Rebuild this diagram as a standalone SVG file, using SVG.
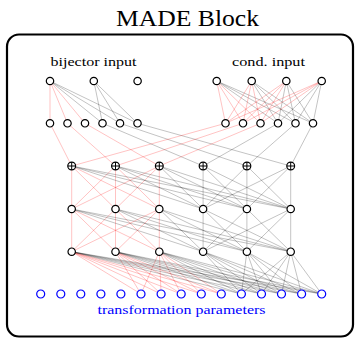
<svg xmlns="http://www.w3.org/2000/svg" xmlns:xlink="http://www.w3.org/1999/xlink" width="356" height="339" viewBox="0 0 356 339">
<style>
.r{stroke:#ff0000;stroke-opacity:.34;stroke-width:.7}
.g{stroke:#000;stroke-opacity:.34;stroke-width:.7}
.n{fill:#fff;stroke:#000;stroke-width:1.2}
.o{fill:#fff;stroke:#0000ff;stroke-width:1.2}
text{font-family:"Liberation Serif","DejaVu Serif",serif}
</style>
<defs>
<g id="unit"><circle class="n" r="3.7"/></g>
<g id="oplus"><circle class="n" r="3.9"/><path d="M-3.9 0H3.9M0-3.9V3.9" stroke="#000" stroke-width="1"/></g>
<g id="param"><circle class="o" r="4"/></g>
</defs>
<rect width="356" height="339" fill="#fff"/>
<text x="187.5" y="26" font-size="24" text-anchor="middle" textLength="143" lengthAdjust="spacingAndGlyphs">MADE Block</text>
<rect id="frame" x="7" y="34.5" width="346" height="302" rx="12" fill="none" stroke="#000" stroke-width="2.2"/>
<text x="93.5" y="65.5" font-size="13" text-anchor="middle" textLength="86" lengthAdjust="spacingAndGlyphs">bijector input</text>
<text x="268.5" y="65.5" font-size="13" text-anchor="middle" textLength="73" lengthAdjust="spacingAndGlyphs">cond. input</text>
<text x="181.5" y="314" font-size="13" text-anchor="middle" textLength="168" lengthAdjust="spacingAndGlyphs" fill="#0000ff">transformation parameters</text>

<g id="connectors">
<!-- bijector input -> first masked layer -->
<line class="r" x1="50" y1="81" x2="50" y2="123.3"/>
<line class="r" x1="50" y1="81" x2="67.5" y2="123.3"/>
<line class="r" x1="50" y1="81" x2="85" y2="123.3"/>
<line class="g" x1="50" y1="81" x2="102.5" y2="123.3"/>
<line class="g" x1="50" y1="81" x2="120" y2="123.3"/>
<line class="g" x1="50" y1="81" x2="137.5" y2="123.3"/>
<line class="g" x1="93.8" y1="81" x2="102.5" y2="123.3"/>
<line class="g" x1="93.8" y1="81" x2="120" y2="123.3"/>
<line class="g" x1="93.8" y1="81" x2="137.5" y2="123.3"/>
<!-- conditional input -> dense layer -->
<line class="r" x1="216.7" y1="81" x2="225.5" y2="123.3"/>
<line class="r" x1="216.7" y1="81" x2="243" y2="123.3"/>
<line class="r" x1="216.7" y1="81" x2="260.5" y2="123.3"/>
<line class="g" x1="216.7" y1="81" x2="278" y2="123.3"/>
<line class="g" x1="216.7" y1="81" x2="295.5" y2="123.3"/>
<line class="g" x1="216.7" y1="81" x2="313" y2="123.3"/>
<line class="r" x1="251.7" y1="81" x2="225.5" y2="123.3"/>
<line class="r" x1="251.7" y1="81" x2="243" y2="123.3"/>
<line class="r" x1="251.7" y1="81" x2="260.5" y2="123.3"/>
<line class="g" x1="251.7" y1="81" x2="278" y2="123.3"/>
<line class="g" x1="251.7" y1="81" x2="295.5" y2="123.3"/>
<line class="g" x1="251.7" y1="81" x2="313" y2="123.3"/>
<line class="r" x1="286.3" y1="81" x2="225.5" y2="123.3"/>
<line class="r" x1="286.3" y1="81" x2="243" y2="123.3"/>
<line class="r" x1="286.3" y1="81" x2="260.5" y2="123.3"/>
<line class="g" x1="286.3" y1="81" x2="278" y2="123.3"/>
<line class="g" x1="286.3" y1="81" x2="295.5" y2="123.3"/>
<line class="g" x1="286.3" y1="81" x2="313" y2="123.3"/>
<line class="r" x1="321.7" y1="81" x2="225.5" y2="123.3"/>
<line class="r" x1="321.7" y1="81" x2="243" y2="123.3"/>
<line class="r" x1="321.7" y1="81" x2="260.5" y2="123.3"/>
<line class="g" x1="321.7" y1="81" x2="278" y2="123.3"/>
<line class="g" x1="321.7" y1="81" x2="295.5" y2="123.3"/>
<line class="g" x1="321.7" y1="81" x2="313" y2="123.3"/>
<!-- sums -->
<line class="r" x1="50" y1="123.3" x2="71.7" y2="166"/>
<line class="r" x1="67.5" y1="123.3" x2="115.5" y2="166"/>
<line class="r" x1="85" y1="123.3" x2="159.3" y2="166"/>
<line class="g" x1="102.5" y1="123.3" x2="203.1" y2="166"/>
<line class="g" x1="120" y1="123.3" x2="246.9" y2="166"/>
<line class="g" x1="137.5" y1="123.3" x2="290.7" y2="166"/>
<line class="r" x1="225.5" y1="123.3" x2="71.7" y2="166"/>
<line class="r" x1="243" y1="123.3" x2="115.5" y2="166"/>
<line class="r" x1="260.5" y1="123.3" x2="159.3" y2="166"/>
<line class="g" x1="278" y1="123.3" x2="203.1" y2="166"/>
<line class="g" x1="295.5" y1="123.3" x2="246.9" y2="166"/>
<line class="g" x1="313" y1="123.3" x2="290.7" y2="166"/>
<!-- hidden layer 1 -> hidden layer 2 -->
<line class="r" x1="71.7" y1="166" x2="71.7" y2="209"/>
<line class="r" x1="71.7" y1="166" x2="115.5" y2="209"/>
<line class="r" x1="71.7" y1="166" x2="159.3" y2="209"/>
<line class="r" x1="115.5" y1="166" x2="71.7" y2="209"/>
<line class="r" x1="115.5" y1="166" x2="115.5" y2="209"/>
<line class="r" x1="115.5" y1="166" x2="159.3" y2="209"/>
<line class="r" x1="159.3" y1="166" x2="71.7" y2="209"/>
<line class="r" x1="159.3" y1="166" x2="115.5" y2="209"/>
<line class="r" x1="159.3" y1="166" x2="159.3" y2="209"/>
<line class="g" x1="71.7" y1="166" x2="203.1" y2="209"/>
<line class="g" x1="71.7" y1="166" x2="246.9" y2="209"/>
<line class="g" x1="71.7" y1="166" x2="290.7" y2="209"/>
<line class="g" x1="115.5" y1="166" x2="203.1" y2="209"/>
<line class="g" x1="115.5" y1="166" x2="246.9" y2="209"/>
<line class="g" x1="115.5" y1="166" x2="290.7" y2="209"/>
<line class="g" x1="159.3" y1="166" x2="203.1" y2="209"/>
<line class="g" x1="159.3" y1="166" x2="246.9" y2="209"/>
<line class="g" x1="159.3" y1="166" x2="290.7" y2="209"/>
<line class="g" x1="203.1" y1="166" x2="203.1" y2="209"/>
<line class="g" x1="203.1" y1="166" x2="246.9" y2="209"/>
<line class="g" x1="203.1" y1="166" x2="290.7" y2="209"/>
<line class="g" x1="246.9" y1="166" x2="203.1" y2="209"/>
<line class="g" x1="246.9" y1="166" x2="246.9" y2="209"/>
<line class="g" x1="246.9" y1="166" x2="290.7" y2="209"/>
<line class="g" x1="290.7" y1="166" x2="203.1" y2="209"/>
<line class="g" x1="290.7" y1="166" x2="246.9" y2="209"/>
<line class="g" x1="290.7" y1="166" x2="290.7" y2="209"/>
<!-- hidden layer 2 -> hidden layer 3 -->
<line class="r" x1="71.7" y1="209" x2="71.7" y2="251.7"/>
<line class="r" x1="71.7" y1="209" x2="115.5" y2="251.7"/>
<line class="r" x1="71.7" y1="209" x2="159.3" y2="251.7"/>
<line class="r" x1="115.5" y1="209" x2="71.7" y2="251.7"/>
<line class="r" x1="115.5" y1="209" x2="115.5" y2="251.7"/>
<line class="r" x1="115.5" y1="209" x2="159.3" y2="251.7"/>
<line class="r" x1="159.3" y1="209" x2="71.7" y2="251.7"/>
<line class="r" x1="159.3" y1="209" x2="115.5" y2="251.7"/>
<line class="r" x1="159.3" y1="209" x2="159.3" y2="251.7"/>
<line class="g" x1="71.7" y1="209" x2="203.1" y2="251.7"/>
<line class="g" x1="71.7" y1="209" x2="246.9" y2="251.7"/>
<line class="g" x1="71.7" y1="209" x2="290.7" y2="251.7"/>
<line class="g" x1="115.5" y1="209" x2="203.1" y2="251.7"/>
<line class="g" x1="115.5" y1="209" x2="246.9" y2="251.7"/>
<line class="g" x1="115.5" y1="209" x2="290.7" y2="251.7"/>
<line class="g" x1="159.3" y1="209" x2="203.1" y2="251.7"/>
<line class="g" x1="159.3" y1="209" x2="246.9" y2="251.7"/>
<line class="g" x1="159.3" y1="209" x2="290.7" y2="251.7"/>
<line class="g" x1="203.1" y1="209" x2="203.1" y2="251.7"/>
<line class="g" x1="203.1" y1="209" x2="246.9" y2="251.7"/>
<line class="g" x1="203.1" y1="209" x2="290.7" y2="251.7"/>
<line class="g" x1="246.9" y1="209" x2="203.1" y2="251.7"/>
<line class="g" x1="246.9" y1="209" x2="246.9" y2="251.7"/>
<line class="g" x1="246.9" y1="209" x2="290.7" y2="251.7"/>
<line class="g" x1="290.7" y1="209" x2="203.1" y2="251.7"/>
<line class="g" x1="290.7" y1="209" x2="246.9" y2="251.7"/>
<line class="g" x1="290.7" y1="209" x2="290.7" y2="251.7"/>
<!-- hidden layer 3 -> transformation parameters -->
<line class="r" x1="71.7" y1="251.7" x2="141" y2="294"/>
<line class="r" x1="71.7" y1="251.7" x2="161.1" y2="294"/>
<line class="r" x1="71.7" y1="251.7" x2="181.2" y2="294"/>
<line class="r" x1="71.7" y1="251.7" x2="201.3" y2="294"/>
<line class="r" x1="71.7" y1="251.7" x2="221.3" y2="294"/>
<line class="r" x1="115.5" y1="251.7" x2="141" y2="294"/>
<line class="r" x1="115.5" y1="251.7" x2="161.1" y2="294"/>
<line class="r" x1="115.5" y1="251.7" x2="181.2" y2="294"/>
<line class="r" x1="115.5" y1="251.7" x2="201.3" y2="294"/>
<line class="r" x1="115.5" y1="251.7" x2="221.3" y2="294"/>
<line class="r" x1="159.3" y1="251.7" x2="141" y2="294"/>
<line class="r" x1="159.3" y1="251.7" x2="161.1" y2="294"/>
<line class="r" x1="159.3" y1="251.7" x2="181.2" y2="294"/>
<line class="r" x1="159.3" y1="251.7" x2="201.3" y2="294"/>
<line class="r" x1="159.3" y1="251.7" x2="221.3" y2="294"/>
<line class="g" x1="71.7" y1="251.7" x2="241.4" y2="294"/>
<line class="g" x1="71.7" y1="251.7" x2="261.5" y2="294"/>
<line class="g" x1="71.7" y1="251.7" x2="281.5" y2="294"/>
<line class="g" x1="71.7" y1="251.7" x2="301.6" y2="294"/>
<line class="g" x1="71.7" y1="251.7" x2="321.7" y2="294"/>
<line class="g" x1="115.5" y1="251.7" x2="241.4" y2="294"/>
<line class="g" x1="115.5" y1="251.7" x2="261.5" y2="294"/>
<line class="g" x1="115.5" y1="251.7" x2="281.5" y2="294"/>
<line class="g" x1="115.5" y1="251.7" x2="301.6" y2="294"/>
<line class="g" x1="115.5" y1="251.7" x2="321.7" y2="294"/>
<line class="g" x1="159.3" y1="251.7" x2="241.4" y2="294"/>
<line class="g" x1="159.3" y1="251.7" x2="261.5" y2="294"/>
<line class="g" x1="159.3" y1="251.7" x2="281.5" y2="294"/>
<line class="g" x1="159.3" y1="251.7" x2="301.6" y2="294"/>
<line class="g" x1="159.3" y1="251.7" x2="321.7" y2="294"/>
<line class="g" x1="203.1" y1="251.7" x2="241.4" y2="294"/>
<line class="g" x1="203.1" y1="251.7" x2="261.5" y2="294"/>
<line class="g" x1="203.1" y1="251.7" x2="281.5" y2="294"/>
<line class="g" x1="203.1" y1="251.7" x2="301.6" y2="294"/>
<line class="g" x1="203.1" y1="251.7" x2="321.7" y2="294"/>
<line class="g" x1="246.9" y1="251.7" x2="241.4" y2="294"/>
<line class="g" x1="246.9" y1="251.7" x2="261.5" y2="294"/>
<line class="g" x1="246.9" y1="251.7" x2="281.5" y2="294"/>
<line class="g" x1="246.9" y1="251.7" x2="301.6" y2="294"/>
<line class="g" x1="246.9" y1="251.7" x2="321.7" y2="294"/>
<line class="g" x1="290.7" y1="251.7" x2="241.4" y2="294"/>
<line class="g" x1="290.7" y1="251.7" x2="261.5" y2="294"/>
<line class="g" x1="290.7" y1="251.7" x2="281.5" y2="294"/>
<line class="g" x1="290.7" y1="251.7" x2="301.6" y2="294"/>
<line class="g" x1="290.7" y1="251.7" x2="321.7" y2="294"/>
</g>

<!-- bijector inputs -->
<g id="x1"><use xlink:href="#unit" x="50" y="81"/></g>
<g id="x2"><use xlink:href="#unit" x="93.8" y="81"/></g>
<g id="x3"><use xlink:href="#unit" x="137.6" y="81"/></g>
<!-- conditional inputs -->
<g id="c1"><use xlink:href="#unit" x="216.7" y="81"/></g>
<g id="c2"><use xlink:href="#unit" x="251.7" y="81"/></g>
<g id="c3"><use xlink:href="#unit" x="286.3" y="81"/></g>
<g id="c4"><use xlink:href="#unit" x="321.7" y="81"/></g>
<!-- masked projection of bijector input -->
<g id="a1"><use xlink:href="#unit" x="50" y="123.3"/></g>
<g id="a2"><use xlink:href="#unit" x="67.5" y="123.3"/></g>
<g id="a3"><use xlink:href="#unit" x="85" y="123.3"/></g>
<g id="a4"><use xlink:href="#unit" x="102.5" y="123.3"/></g>
<g id="a5"><use xlink:href="#unit" x="120" y="123.3"/></g>
<g id="a6"><use xlink:href="#unit" x="137.5" y="123.3"/></g>
<!-- dense projection of conditional input -->
<g id="b1"><use xlink:href="#unit" x="225.5" y="123.3"/></g>
<g id="b2"><use xlink:href="#unit" x="243" y="123.3"/></g>
<g id="b3"><use xlink:href="#unit" x="260.5" y="123.3"/></g>
<g id="b4"><use xlink:href="#unit" x="278" y="123.3"/></g>
<g id="b5"><use xlink:href="#unit" x="295.5" y="123.3"/></g>
<g id="b6"><use xlink:href="#unit" x="313" y="123.3"/></g>
<!-- sums -->
<g id="s1"><use xlink:href="#oplus" x="71.7" y="166"/></g>
<g id="s2"><use xlink:href="#oplus" x="115.5" y="166"/></g>
<g id="s3"><use xlink:href="#oplus" x="159.3" y="166"/></g>
<g id="s4"><use xlink:href="#oplus" x="203.1" y="166"/></g>
<g id="s5"><use xlink:href="#oplus" x="246.9" y="166"/></g>
<g id="s6"><use xlink:href="#oplus" x="290.7" y="166"/></g>
<!-- hidden layer 2 -->
<g id="h1"><use xlink:href="#unit" x="71.7" y="209"/></g>
<g id="h2"><use xlink:href="#unit" x="115.5" y="209"/></g>
<g id="h3"><use xlink:href="#unit" x="159.3" y="209"/></g>
<g id="h4"><use xlink:href="#unit" x="203.1" y="209"/></g>
<g id="h5"><use xlink:href="#unit" x="246.9" y="209"/></g>
<g id="h6"><use xlink:href="#unit" x="290.7" y="209"/></g>
<!-- hidden layer 3 -->
<g id="k1"><use xlink:href="#unit" x="71.7" y="251.7"/></g>
<g id="k2"><use xlink:href="#unit" x="115.5" y="251.7"/></g>
<g id="k3"><use xlink:href="#unit" x="159.3" y="251.7"/></g>
<g id="k4"><use xlink:href="#unit" x="203.1" y="251.7"/></g>
<g id="k5"><use xlink:href="#unit" x="246.9" y="251.7"/></g>
<g id="k6"><use xlink:href="#unit" x="290.7" y="251.7"/></g>
<!-- transformation parameters -->
<g id="p1"><use xlink:href="#param" x="40.7" y="294"/></g>
<g id="p2"><use xlink:href="#param" x="60.8" y="294"/></g>
<g id="p3"><use xlink:href="#param" x="80.8" y="294"/></g>
<g id="p4"><use xlink:href="#param" x="100.9" y="294"/></g>
<g id="p5"><use xlink:href="#param" x="120.9" y="294"/></g>
<g id="p6"><use xlink:href="#param" x="141" y="294"/></g>
<g id="p7"><use xlink:href="#param" x="161.1" y="294"/></g>
<g id="p8"><use xlink:href="#param" x="181.2" y="294"/></g>
<g id="p9"><use xlink:href="#param" x="201.3" y="294"/></g>
<g id="p10"><use xlink:href="#param" x="221.3" y="294"/></g>
<g id="p11"><use xlink:href="#param" x="241.4" y="294"/></g>
<g id="p12"><use xlink:href="#param" x="261.5" y="294"/></g>
<g id="p13"><use xlink:href="#param" x="281.5" y="294"/></g>
<g id="p14"><use xlink:href="#param" x="301.6" y="294"/></g>
<g id="p15"><use xlink:href="#param" x="321.7" y="294"/></g>
</svg>
